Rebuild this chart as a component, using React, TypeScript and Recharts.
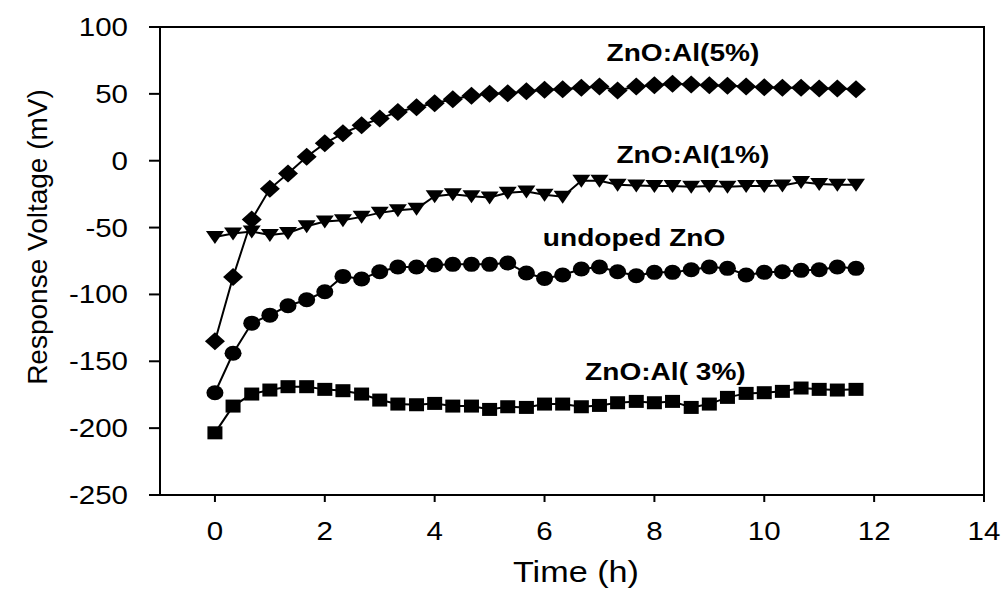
import React from 'react';
import { LineChart, Line, XAxis, YAxis, ReferenceArea, ReferenceDot } from 'recharts';

const time = [0, 0.33, 0.67, 1, 1.33, 1.67, 2, 2.33, 2.67, 3, 3.33, 3.67, 4, 4.33, 4.67, 5, 5.33, 5.67,
    6, 6.33, 6.67, 7, 7.33, 7.67, 8, 8.33, 8.67, 9, 9.33, 9.67, 10, 10.33, 10.67, 11, 11.33, 11.67];

const al5 = [-135, -87, -44, -21, -9.5, 3, 13, 20.5, 26.5, 31.5, 36.5, 40, 43, 46, 48.5, 50, 50.5, 52,
    53, 53.5, 54.5, 55.5, 52.5, 55.5, 56.5, 57.5, 57, 56.5, 56, 55.5, 55, 54.5, 54.5, 54, 54, 53.5];

const al1 = [-57, -54.5, -53, -55.5, -54, -49, -45.5, -44.5, -42, -39, -37, -36, -26.5, -25, -26.5, -27.5, -24, -23,
    -25.5, -27, -15, -15, -18, -18.5, -19, -19, -19.5, -19, -19.5, -19, -19, -18.5, -16, -17.5, -18, -18];

const undoped = [-173.5, -144, -121.5, -115.5, -108.5, -104, -98, -86.5, -88.5, -83, -79.5, -79.5, -78, -77.5, -77.5, -77.5, -76.5, -84,
    -88, -85.5, -81, -79.5, -83, -86, -83.5, -83.5, -81.5, -79.5, -80.5, -85.5, -83.5, -83, -82, -81.5, -79.5, -80.5];

const al3 = [-203.5, -183.5, -174.5, -171.5, -169, -169, -171, -172, -174.5, -179, -182, -182.5, -181.5, -183.5, -183.5, -186, -184, -184.5,
    -182, -182, -184, -183, -181, -180, -181, -180, -184.5, -182, -177, -174, -173.5, -172.5, -170, -171, -171.5, -171];

const xTicks = [0, 2, 4, 6, 8, 10, 12, 14];
const yTicks = [-250, -200, -150, -100, -50, 0, 50, 100];

const annotations = [
    { text: 'ZnO:Al(5%)', x: 8.52, y: 80.5 },
    { text: 'ZnO:Al(1%)', x: 8.7, y: 4.3 },
    { text: 'undoped ZnO', x: 7.63, y: -57.8 },
    { text: 'ZnO:Al( 3%)', x: 8.2, y: -158 }
];

const data = time.map((t, i) => ({ time: t, al5: al5[i], al1: al1[i], undoped: undoped[i], al3: al3[i] }));

const FONT = '"Liberation Sans", Arial, sans-serif';
const STRETCH = 1.18; // the source image is a bit wider than tall

const diamond = (p: any) => (
    <path key={`d-${p.index}`} d={`M${p.cx},${p.cy - 9}L${p.cx + 10},${p.cy}L${p.cx},${p.cy + 9}L${p.cx - 10},${p.cy}Z`} fill="#000" />
);
const triangle = (p: any) => (
    <path key={`t-${p.index}`} d={`M${p.cx - 9},${p.cy - 6}L${p.cx + 9},${p.cy - 6}L${p.cx},${p.cy + 7}Z`} fill="#000" />
);
const circle = (p: any) => (
    <ellipse key={`c-${p.index}`} cx={p.cx} cy={p.cy} rx={8.5} ry={7.5} fill="#000" />
);
const square = (p: any) => (
    <rect key={`s-${p.index}`} x={p.cx - 7.5} y={p.cy - 6.5} width={15} height={13} fill="#000" />
);

const XTick = (p: any) => (
    <g transform={`translate(${p.x},${p.y}) scale(${STRETCH},1)`}>
        <text x={0} y={18} textAnchor="middle" fontSize={25} fontFamily={FONT} fill="#000">{p.payload.value}</text>
    </g>
);

const YTick = (p: any) => (
    <g transform={`translate(${p.x},${p.y}) scale(${STRETCH},1)`}>
        <text x={0} y={9} textAnchor="end" fontSize={25} fontFamily={FONT} fill="#000">{p.payload.value}</text>
    </g>
);

const annoLabel = (text: string) => (props: any) => {
    const vb = props.viewBox;
    const cx = vb.x + vb.width / 2;
    const cy = vb.y + vb.height / 2;
    return (
        <g transform={`translate(${cx},${cy}) scale(1.17,1)`}>
            <text x={0} y={8} textAnchor="middle" fontSize={24} fontWeight="bold" fontFamily={FONT} fill="#000">{text}</text>
        </g>
    );
};

export default function App() {
    return (
        <div style={{ position: 'absolute', left: 0, top: 0, background: '#fff' }}>
            <LineChart width={1004} height={591} data={data} margin={{ top: 27, right: 20, bottom: 0, left: 0 }}>
                <XAxis
                    dataKey="time"
                    type="number"
                    domain={[-1, 14]}
                    ticks={xTicks}
                    height={96}
                    stroke="#000"
                    strokeWidth={2}
                    tickSize={7}
                    tickMargin={20}
                    tick={<XTick />}
                    label={{
                        content: () => (
                            <g transform="translate(576,582) scale(1.14,1)">
                                <text x={0} y={0} textAnchor="middle" fontSize={30} fontFamily={FONT} fill="#000">Time (h)</text>
                            </g>
                        )
                    }}
                />
                <YAxis
                    type="number"
                    domain={[-250, 100]}
                    ticks={yTicks}
                    width={160}
                    stroke="#000"
                    strokeWidth={2}
                    tickSize={11}
                    tickMargin={21}
                    tick={<YTick />}
                    label={{
                        content: () => (
                            <text x={37} y={237} transform="rotate(-90 37 237)" textAnchor="middle" dominantBaseline="central"
                                fontSize={28} fontFamily={FONT} fill="#000">Response Voltage (mV)</text>
                        )
                    }}
                />
                <ReferenceArea x1={-1} x2={14} y1={-250} y2={100} fill="none" stroke="#000" strokeWidth={2} ifOverflow="visible" />
                <Line dataKey="al5" stroke="#000" strokeWidth={2} dot={diamond} isAnimationActive={false} />
                <Line dataKey="al1" stroke="#000" strokeWidth={2} dot={triangle} isAnimationActive={false} />
                <Line dataKey="undoped" stroke="#000" strokeWidth={2} dot={circle} isAnimationActive={false} />
                <Line dataKey="al3" stroke="#000" strokeWidth={2} dot={square} isAnimationActive={false} />
                {annotations.map(a => (
                    <ReferenceDot key={a.text} x={a.x} y={a.y} r={0} fill="none" stroke="none"
                        label={{ content: annoLabel(a.text) }} />
                ))}
            </LineChart>
        </div>
    );
}
